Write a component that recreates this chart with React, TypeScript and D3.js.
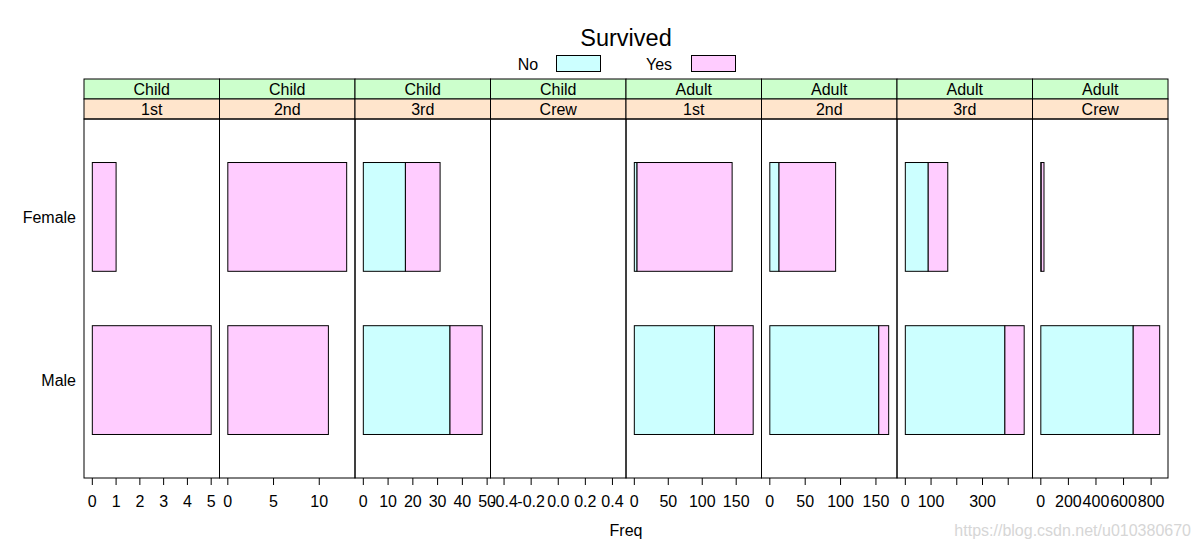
import React from "react";
import * as d3 from "d3";

const ageLevels = ["Child", "Adult"];
const classLevels = ["1st", "2nd", "3rd", "Crew"];
const sexLevels = ["Male", "Female"];
const survivedLevels = ["No", "Yes"];

// panels ordered: Child 1st, 2nd, 3rd, Crew, Adult 1st, 2nd, 3rd, Crew
const noMale = [0, 0, 35, 0, 118, 154, 387, 670];
const yesMale = [5, 11, 13, 0, 57, 14, 75, 192];
const noFemale = [0, 0, 17, 0, 4, 13, 89, 3];
const yesFemale = [1, 13, 14, 0, 140, 80, 76, 20];

const panelTicks = [
  [0, 1, 2, 3, 4, 5],
  [0, 5, 10],
  [0, 10, 20, 30, 40, 50],
  [-0.4, -0.2, 0, 0.2, 0.4],
  [0, 50, 100, 150],
  [0, 50, 100, 150],
  [0, 100, 200, 300, 400],
  [0, 200, 400, 600, 800],
];
const panelTickLabels = [
  ["0", "1", "2", "3", "4", "5"],
  ["0", "5", "10"],
  ["0", "10", "20", "30", "40", "50"],
  ["-0.4", "-0.2", "0.0", "0.2", "0.4"],
  ["0", "50", "100", "150"],
  ["0", "50", "100", "150"],
  ["0", "100", "", "300", ""],
  ["0", "200", "400", "600", "800"],
];

const colors = { No: "#CCFFFF", Yes: "#FFCCFF" };
const FONT = "'Liberation Sans', Arial, sans-serif";

export default function App() {
  const W = 1200, H = 551;
  const left = 84, right = 1168;
  const stripTop = 79, stripMid = 99, panelTop = 119, panelBottom = 478;
  const nPanels = ageLevels.length * classLevels.length;
  const pw = (right - left) / nPanels;

  const y = d3.scaleLinear().domain([0.4, 2.6]).range([panelBottom, panelTop]);
  const halfH = (y(0) - y(1)) / 3;

  const panels = d3.range(nPanels).map((i) => {
    const ageIdx = Math.floor(i / classLevels.length);
    const clsIdx = i % classLevels.length;
    const x0 = left + i * pw;
    const rows = [
      { sex: "Male", no: noMale[i], yes: yesMale[i] },
      { sex: "Female", no: noFemale[i], yes: yesFemale[i] },
    ];
    const mx = d3.max(rows, (r) => r.no + r.yes) as number;
    const domain = mx > 0 ? [-0.07 * mx, 1.07 * mx] : [-0.5, 0.5];
    const x = d3.scaleLinear().domain(domain).range([x0, x0 + pw]);
    return { i, age: ageLevels[ageIdx], cls: classLevels[clsIdx], x0, rows, x };
  });

  const fs = 16;

  return (
    <svg
      width={W}
      height={H}
      style={{ position: "absolute", left: 0, top: 0, display: "block", background: "#fff" }}
      fontFamily={FONT}
    >
      <rect x={0} y={0} width={W} height={H} fill="#fff" />
      {/* title & legend */}
      <text x={626} y={46} fontSize={23.5} textAnchor="middle" fill="#000">Survived</text>
      <text x={528} y={69.5} fontSize={fs} textAnchor="middle" fill="#000">{survivedLevels[0]}</text>
      <rect x={556.5} y={55.5} width={44} height={16} fill={colors.No} stroke="#000" />
      <text x={659} y={69.5} fontSize={fs} textAnchor="middle" fill="#000">{survivedLevels[1]}</text>
      <rect x={691.5} y={55.5} width={44} height={16} fill={colors.Yes} stroke="#000" />

      {panels.map((p) => (
        <g key={p.i}>
          {/* strips */}
          <rect x={p.x0} y={stripTop} width={pw} height={stripMid - stripTop} fill="#CCFFCC" stroke="#000" />
          <text x={p.x0 + pw / 2} y={stripMid - 4} fontSize={fs} textAnchor="middle" fill="#000">{p.age}</text>
          <rect x={p.x0} y={stripMid} width={pw} height={panelTop - stripMid} fill="#FFE5CC" stroke="#000" />
          <text x={p.x0 + pw / 2} y={panelTop - 4} fontSize={fs} textAnchor="middle" fill="#000">{p.cls}</text>
          {/* panel frame */}
          <rect x={p.x0} y={panelTop} width={pw} height={panelBottom - panelTop} fill="none" stroke="#000" />
          {/* bars */}
          {p.rows.map((r) => {
            const yc = y(sexLevels.indexOf(r.sex) + 1);
            const segs = [
              { key: "No", from: 0, to: r.no },
              { key: "Yes", from: r.no, to: r.no + r.yes },
            ].filter((s) => s.to > s.from);
            return segs.map((s) => (
              <rect
                key={r.sex + s.key}
                x={p.x(s.from)}
                y={yc - halfH}
                width={p.x(s.to) - p.x(s.from)}
                height={2 * halfH}
                fill={colors[s.key as "No" | "Yes"]}
                stroke="#000"
                strokeWidth={1}
              />
            ));
          })}
          {/* x axis ticks */}
          {panelTicks[p.i].map((t, k) => (
            <g key={k}>
              <line x1={p.x(t)} x2={p.x(t)} y1={panelBottom} y2={panelBottom + 7} stroke="#000" />
              <text x={p.x(t)} y={507} fontSize={fs} textAnchor="middle" fill="#000">
                {panelTickLabels[p.i][k]}
              </text>
            </g>
          ))}
        </g>
      ))}

      {/* y labels */}
      {sexLevels.map((s, k) => (
        <text key={s} x={76} y={y(k + 1) + 6} fontSize={fs} textAnchor="end" fill="#000">{s}</text>
      ))}

      <text x={626} y={536} fontSize={fs} textAnchor="middle" fill="#000">Freq</text>
      <text x={1191} y={536} fontSize={fs} textAnchor="end" fill="#d6d6d6">https://blog.csdn.net/u010380670</text>
    </svg>
  );
}
